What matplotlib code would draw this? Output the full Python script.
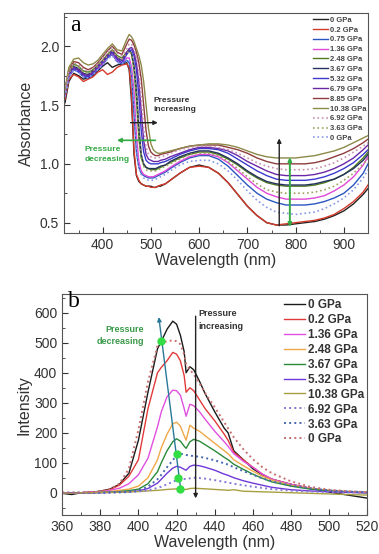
import matplotlib
matplotlib.use('Agg')
import matplotlib.pyplot as plt
from matplotlib.ticker import MultipleLocator

plt.rcParams['font.family'] = ['Liberation Sans', 'DejaVu Sans']

# ---------------- panel a : absorbance ----------------
wl_a = [322, 330, 340, 350, 360, 370, 380, 390, 400, 410, 420, 430, 440,
        450, 455, 460, 465, 470, 475, 480, 485, 490, 495, 500, 505, 510, 515, 520,
        530, 540, 560, 580, 600, 620, 640, 660, 680, 700, 720, 740, 760, 780,
        800, 820, 840, 860, 880, 900, 920, 940, 950]

abs_0 = [1.52, 1.70, 1.77, 1.75, 1.72, 1.73, 1.75, 1.79, 1.83, 1.86, 1.82, 1.84, 1.85,
         1.86, 1.80, 1.52, 1.08, 0.90, 0.85, 0.83, 0.82, 0.81, 0.81, 0.81, 0.80, 0.80, 0.81, 0.81,
         0.83, 0.86, 0.92, 0.97, 0.99, 0.97, 0.92, 0.84, 0.74, 0.64, 0.56, 0.50, 0.48, 0.48,
         0.49, 0.50, 0.51, 0.53, 0.56, 0.60, 0.66, 0.74, 0.79]
abs_02 = [1.55, 1.72, 1.76, 1.74, 1.70, 1.72, 1.74, 1.78, 1.80, 1.76, 1.78, 1.82, 1.84,
          1.85, 1.82, 1.58, 1.12, 0.91, 0.86, 0.83, 0.82, 0.81, 0.81, 0.80, 0.80, 0.80, 0.81, 0.82,
          0.83, 0.86, 0.92, 0.97, 0.98, 0.97, 0.92, 0.84, 0.74, 0.64, 0.56, 0.50, 0.48, 0.49,
          0.50, 0.51, 0.52, 0.54, 0.57, 0.62, 0.68, 0.76, 0.82]
abs_075 = [1.58, 1.74, 1.80, 1.78, 1.74, 1.73, 1.76, 1.80, 1.84, 1.90, 1.93, 1.87, 1.85,
           1.88, 1.86, 1.75, 1.42, 1.10, 0.97, 0.92, 0.90, 0.89, 0.88, 0.88, 0.88, 0.89, 0.90, 0.91,
           0.93, 0.96, 1.01, 1.05, 1.07, 1.07, 1.04, 0.98, 0.90, 0.82, 0.75, 0.70, 0.67, 0.65,
           0.65, 0.65, 0.66, 0.68, 0.71, 0.75, 0.82, 0.92, 1.00]
abs_136 = [1.58, 1.75, 1.81, 1.79, 1.75, 1.74, 1.77, 1.81, 1.85, 1.91, 1.94, 1.88, 1.86,
           1.90, 1.90, 1.82, 1.62, 1.25, 1.02, 0.94, 0.91, 0.90, 0.89, 0.89, 0.89, 0.90, 0.91, 0.92,
           0.94, 0.97, 1.02, 1.06, 1.08, 1.08, 1.06, 1.01, 0.94, 0.87, 0.80, 0.75, 0.72, 0.70,
           0.70, 0.70, 0.71, 0.73, 0.77, 0.82, 0.89, 0.99, 1.06]
abs_248 = [1.60, 1.78, 1.85, 1.83, 1.79, 1.78, 1.80, 1.84, 1.88, 1.93, 1.97, 1.92, 1.90,
           1.95, 1.97, 1.93, 1.80, 1.55, 1.22, 1.05, 0.99, 0.97, 0.96, 0.95, 0.95, 0.95, 0.96, 0.97,
           0.99, 1.01, 1.05, 1.08, 1.10, 1.10, 1.08, 1.04, 0.99, 0.93, 0.88, 0.84, 0.82, 0.81,
           0.81, 0.81, 0.82, 0.84, 0.87, 0.91, 0.97, 1.05, 1.10]
abs_367 = [1.60, 1.77, 1.83, 1.81, 1.77, 1.76, 1.79, 1.83, 1.87, 1.92, 1.95, 1.90, 1.88,
           1.94, 1.96, 1.94, 1.84, 1.64, 1.32, 1.08, 1.00, 0.97, 0.96, 0.96, 0.96, 0.96, 0.97, 0.98,
           0.99, 1.02, 1.06, 1.09, 1.11, 1.11, 1.09, 1.05, 1.00, 0.94, 0.89, 0.85, 0.83, 0.82,
           0.82, 0.82, 0.83, 0.85, 0.87, 0.91, 0.96, 1.03, 1.08]
abs_532 = [1.61, 1.76, 1.81, 1.79, 1.75, 1.74, 1.77, 1.82, 1.86, 1.91, 1.95, 1.89, 1.86,
           1.93, 1.96, 1.97, 1.92, 1.80, 1.58, 1.28, 1.10, 1.03, 1.01, 1.00, 1.00, 1.00, 1.00, 1.01,
           1.02, 1.04, 1.08, 1.11, 1.13, 1.13, 1.12, 1.09, 1.04, 0.99, 0.94, 0.90, 0.87, 0.86,
           0.86, 0.86, 0.87, 0.89, 0.92, 0.96, 1.01, 1.08, 1.12]
abs_679 = [1.62, 1.77, 1.82, 1.80, 1.76, 1.75, 1.78, 1.83, 1.87, 1.92, 1.96, 1.90, 1.88,
           1.95, 1.98, 1.99, 1.95, 1.86, 1.70, 1.45, 1.20, 1.08, 1.04, 1.03, 1.02, 1.02, 1.02, 1.03,
           1.04, 1.06, 1.09, 1.12, 1.14, 1.14, 1.13, 1.11, 1.07, 1.02, 0.98, 0.94, 0.91, 0.90,
           0.90, 0.90, 0.91, 0.93, 0.96, 1.00, 1.05, 1.12, 1.16]
abs_885 = [1.63, 1.80, 1.87, 1.86, 1.82, 1.80, 1.82, 1.86, 1.91, 1.96, 2.00, 1.95, 1.93,
           2.02, 2.06, 2.05, 2.01, 1.95, 1.86, 1.72, 1.50, 1.28, 1.15, 1.10, 1.08, 1.07, 1.07, 1.08,
           1.09, 1.10, 1.13, 1.15, 1.16, 1.16, 1.16, 1.14, 1.12, 1.09, 1.05, 1.02, 1.00, 1.00,
           1.00, 1.00, 1.01, 1.03, 1.06, 1.09, 1.13, 1.18, 1.21]
abs_1038 = [1.64, 1.82, 1.89, 1.90, 1.86, 1.84, 1.85, 1.88, 1.93, 1.98, 2.02, 1.97, 1.96,
            2.06, 2.10, 2.08, 2.04, 1.98, 1.92, 1.84, 1.70, 1.50, 1.30, 1.17, 1.12, 1.10, 1.09, 1.09,
            1.10, 1.11, 1.13, 1.15, 1.16, 1.17, 1.17, 1.16, 1.14, 1.11, 1.08, 1.06, 1.05, 1.05,
            1.05, 1.06, 1.07, 1.09, 1.11, 1.14, 1.18, 1.22, 1.24]
abs_692_d = [1.62, 1.79, 1.86, 1.84, 1.80, 1.79, 1.81, 1.85, 1.90, 1.95, 1.99, 1.94, 1.92,
             1.98, 2.02, 2.02, 1.98, 1.91, 1.78, 1.56, 1.30, 1.14, 1.08, 1.06, 1.05, 1.05, 1.05, 1.06,
             1.07, 1.09, 1.12, 1.14, 1.15, 1.15, 1.14, 1.12, 1.09, 1.05, 1.01, 0.98, 0.96, 0.95,
             0.95, 0.95, 0.96, 0.98, 1.01, 1.05, 1.10, 1.15, 1.18]
abs_363_d = [1.60, 1.77, 1.84, 1.82, 1.78, 1.77, 1.79, 1.83, 1.87, 1.92, 1.96, 1.91, 1.89,
             1.94, 1.96, 1.93, 1.82, 1.60, 1.28, 1.06, 0.98, 0.95, 0.94, 0.94, 0.94, 0.94, 0.95, 0.96,
             0.98, 1.00, 1.04, 1.08, 1.09, 1.09, 1.07, 1.02, 0.96, 0.89, 0.83, 0.78, 0.76, 0.75,
             0.75, 0.75, 0.76, 0.78, 0.81, 0.86, 0.92, 1.00, 1.04]
abs_0_d = [1.57, 1.74, 1.80, 1.78, 1.74, 1.73, 1.76, 1.80, 1.84, 1.89, 1.92, 1.86, 1.85,
           1.89, 1.88, 1.80, 1.52, 1.15, 0.97, 0.91, 0.88, 0.87, 0.86, 0.86, 0.86, 0.87, 0.88, 0.89,
           0.91, 0.94, 0.99, 1.02, 1.03, 1.03, 1.00, 0.94, 0.86, 0.77, 0.69, 0.63, 0.59, 0.58,
           0.57, 0.58, 0.59, 0.62, 0.66, 0.71, 0.78, 0.88, 0.95]

labels_a = ['0 GPa', '0.2 GPa', '0.75 GPa', '1.36 GPa', '2.48 GPa', '3.67 GPa', '5.32 GPa',
            '6.79 GPa', '8.85 GPa', '10.38 GPa', '6.92 GPa', '3.63 GPa', '0 GPa']
curves_a = [abs_0, abs_02, abs_075, abs_136, abs_248, abs_367, abs_532,
            abs_679, abs_885, abs_1038, abs_692_d, abs_363_d, abs_0_d]
colors_a = ['#222222', '#d43a2a', '#2a55c0', '#e048d8', '#4f7d1e', '#24305e', '#3a3ad0',
            '#6a28a8', '#8e3c3c', '#8c8a48', '#c890b0', '#a0a060', '#8898e8']
styles_a = ['-'] * 10 + [':'] * 3

# ---------------- panel b : emission ----------------
wl_b = [360, 365, 370, 375, 380, 385, 390, 395, 400, 405, 410, 412, 415, 418, 420, 422,
        424, 425, 427, 429, 432, 435, 440, 445, 447, 450, 455, 460, 465, 470, 480, 490,
        500, 510, 520]

int_0 = [-2, -6, 0, 2, 5, 12, 28, 65, 175, 335, 480, 505, 545, 572, 562, 525,
         470, 400, 420, 410, 372, 330, 270, 215, 200, 140, 110, 80, 60, 45, 28, 15,
         2, -8, -18]
int_02 = [0, -2, 0, 2, 4, 10, 25, 55, 110, 280, 400, 418, 440, 468, 462, 440,
          390, 335, 350, 340, 310, 280, 240, 195, 175, 135, 110, 85, 62, 45, 28, 15,
          6, 2, 0]
int_136 = [0, 0, 0, 2, 4, 8, 15, 30, 60, 115, 220, 270, 320, 342, 340, 325,
           280, 255, 295, 290, 270, 245, 205, 170, 155, 130, 105, 85, 62, 45, 28, 15,
           7, 3, 2]
int_248 = [0, 0, 0, 0, 2, 4, 8, 12, 22, 50, 110, 150, 195, 230, 235, 222,
           190, 175, 225, 215, 205, 190, 165, 140, 130, 110, 90, 72, 55, 42, 25, 14,
           8, 4, 2]
int_367 = [0, 0, 0, 0, 1, 2, 4, 7, 12, 30, 70, 100, 140, 170, 180, 172,
           155, 148, 170, 178, 172, 160, 140, 118, 110, 95, 78, 62, 48, 36, 22, 12,
           6, 2, 0]
int_532 = [0, 0, 0, 0, 0, 1, 2, 3, 6, 14, 32, 45, 65, 82, 88, 85,
           78, 75, 88, 92, 90, 85, 75, 62, 58, 50, 40, 32, 25, 18, 10, 6,
           3, 1, 0]
int_1038 = [0, -2, 0, 0, 1, 1, 2, 3, 4, 6, 8, 9, 11, 12, 13, 12,
            11, 11, 14, 15, 14, 13, 11, 9, 8, 10, 5, 4, 3, 2, 0, -2,
            -4, -6, -8]
int_692_d = [0, 0, 0, 0, 0, 0, 1, 2, 4, 8, 16, 20, 28, 36, 42, 46,
             46, 45, 48, 50, 49, 47, 42, 36, 34, 30, 25, 20, 16, 12, 7, 4,
             2, 1, 0]
int_363_d = [0, 0, 0, 0, 0, 1, 2, 4, 8, 20, 45, 60, 85, 108, 125, 130,
             128, 126, 124, 122, 120, 116, 108, 98, 94, 85, 72, 60, 48, 38, 24, 14,
             8, 4, 2]
int_0_d = [0, 0, 1, 2, 5, 12, 30, 80, 210, 370, 490, 500, 505, 508, 505, 495,
           460, 430, 410, 395, 365, 332, 285, 235, 215, 185, 145, 112, 85, 65, 38, 20,
           10, 5, 2]

labels_b = ['0 GPa', '0.2 GPa', '1.36 GPa', '2.48 GPa', '3.67 GPa', '5.32 GPa',
            '10.38 GPa', '6.92 GPa', '3.63 GPa', '0 GPa']
curves_b = [int_0, int_02, int_136, int_248, int_367, int_532, int_1038,
            int_692_d, int_363_d, int_0_d]
colors_b = ['#1a1a1a', '#e03a3a', '#e050e0', '#f0a848', '#2a8a3a', '#7038d8', '#a8a040',
            '#8878d8', '#4868b0', '#c87070']
styles_b = ['-'] * 7 + [':'] * 3

fig = plt.figure(figsize=(3.79, 5.54), dpi=100)
ax1 = fig.add_axes([0.169, 0.579, 0.802, 0.397])
ax2 = fig.add_axes([0.164, 0.070, 0.805, 0.399])

for y, lab, c, ls in zip(curves_a, labels_a, colors_a, styles_a):
    ax1.plot(wl_a, y, color=c, linestyle=ls, linewidth=1.0 if ls == '-' else 1.2, label=lab)

for y, lab, c, ls in zip(curves_b, labels_b, colors_b, styles_b):
    ax2.plot(wl_b, y, color=c, linestyle=ls, linewidth=1.0 if ls == '-' else 1.4, label=lab)

# axes styling
for ax in (ax1, ax2):
    ax.tick_params(which='both', direction='in', labelsize=10, colors='#333333')
    ax.tick_params(which='major', length=4)
    ax.tick_params(which='minor', length=2)
    for s in ax.spines.values():
        s.set_color('#555555')
    ax.set_xlabel('Wavelength (nm)', fontsize=11.5, color='#333333', labelpad=1)

ax1.set_xlim(320, 950)
ax1.set_ylim(0.41, 2.28)
ax1.xaxis.set_major_locator(MultipleLocator(100))
ax1.xaxis.set_minor_locator(MultipleLocator(50))
ax1.yaxis.set_major_locator(MultipleLocator(0.5))
ax1.yaxis.set_minor_locator(MultipleLocator(0.25))
ax1.set_ylabel('Absorbance', fontsize=11.5, color='#333333', labelpad=4)

ax2.set_xlim(360, 520)
ax2.set_ylim(-75, 662)
ax2.xaxis.set_major_locator(MultipleLocator(20))
ax2.xaxis.set_minor_locator(MultipleLocator(10))
ax2.yaxis.set_major_locator(MultipleLocator(100))
ax2.yaxis.set_minor_locator(MultipleLocator(50))
ax2.set_ylabel('Intensity', fontsize=11.5, color='#333333', labelpad=2)

# panel letters
ax1.text(0.02, 0.945, 'a', transform=ax1.transAxes, fontsize=17, family='Liberation Serif',
         va='center', ha='left')
ax2.text(0.02, 0.965, 'b', transform=ax2.transAxes, fontsize=17, family='Liberation Serif',
         va='center', ha='left')

# legends
leg1 = ax1.legend(loc='upper right', bbox_to_anchor=(1.005, 1.0), frameon=False,
                  handlelength=2.0, handletextpad=0.2, labelspacing=0.33,
                  borderaxespad=0.0, prop={'size': 5.5, 'weight': 'bold'})
for t in leg1.get_texts():
    t.set_color('#444444')
leg2 = ax2.legend(loc='upper right', bbox_to_anchor=(1.005, 1.0), frameon=False,
                  handlelength=1.8, handletextpad=0.2, labelspacing=0.25,
                  borderaxespad=0.0, prop={'size': 8.5, 'weight': 'bold'})
for t in leg2.get_texts():
    t.set_color('#333333')

# annotations panel a
green = '#33aa44'
ax1.text(505, 1.57, 'Pressure\nincreasing', fontsize=6, fontweight='bold', color='#333333',
         va='top', ha='left', linespacing=1.5)
ax1.annotate('', xy=(520, 1.35), xytext=(452, 1.35),
             arrowprops=dict(arrowstyle='-|>', color='#222222', lw=1.0, mutation_scale=6))
ax1.annotate('', xy=(424, 1.20), xytext=(515, 1.20),
             arrowprops=dict(arrowstyle='-|>', color=green, lw=1.2, mutation_scale=6))
ax1.text(363, 1.15, 'Pressure\ndecreasing', fontsize=6, fontweight='bold', color=green,
         va='top', ha='left', linespacing=1.5)
ax1.annotate('', xy=(766, 1.24), xytext=(766, 0.45),
             arrowprops=dict(arrowstyle='-|>', color='#222222', lw=1.0, mutation_scale=6))
ax1.annotate('', xy=(788, 0.44), xytext=(788, 1.08),
             arrowprops=dict(arrowstyle='<|-|>', color=green, lw=1.4, mutation_scale=5))

# annotations panel b
ax2.annotate('', xy=(410.5, 595), xytext=(422.5, -5),
             arrowprops=dict(arrowstyle='-|>', color='#2a7898', lw=1.0, mutation_scale=6))
dots_x = [412, 420, 421, 422]
dots_y = [505, 130, 48, 14]
ax2.plot(dots_x, dots_y, 'o', color='#33dd44', markersize=5, zorder=5)
ax2.text(403, 560, 'Pressure\ndecreasing', fontsize=6.5, fontweight='bold', color='#3a9a4a',
         va='top', ha='right', linespacing=1.5)
ax2.annotate('', xy=(430, -28), xytext=(430, 598),
             arrowprops=dict(arrowstyle='-|>', color='#222222', lw=1.0, mutation_scale=6))
ax2.text(431.5, 612, 'Pressure\nincreasing', fontsize=6.5, fontweight='bold', color='#333333',
         va='top', ha='left', linespacing=1.5)

fig.savefig('out.png', dpi=100)
